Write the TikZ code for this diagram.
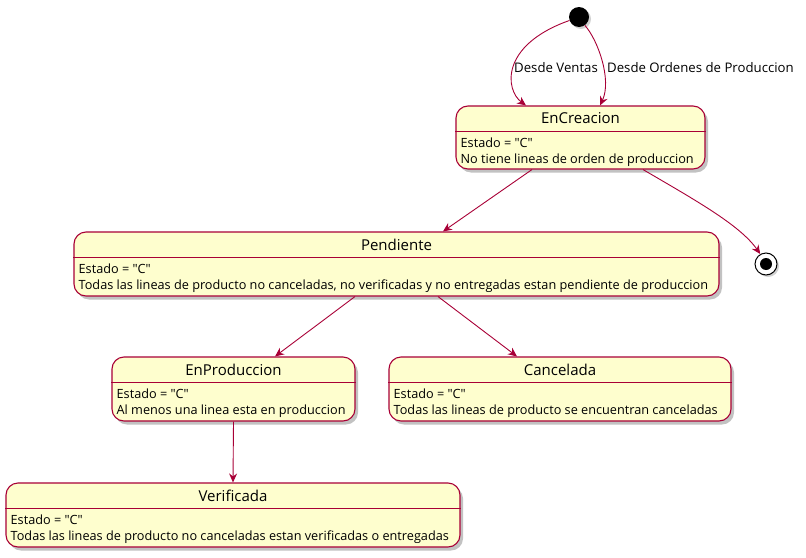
\documentclass[tikz,border=0pt]{standalone}
\usepackage{fontspec}
\setmainfont{Open Sans}[Ligatures=TeXOff]
\usetikzlibrary{arrows.meta,shadows}
\definecolor{umlred}{HTML}{A80036}
\definecolor{umlfill}{HTML}{FEFECE}
\tikzset{
  statebox/.style={draw=umlred, fill=umlfill, line width=1.1pt, rounded corners=12pt, rectangle, inner sep=0pt,
    drop shadow={shadow xshift=3pt, shadow yshift=-3.5pt, opacity=0.4, fill=black!60}},
  sepline/.style={draw=umlred, line width=1.1pt},
  titletext/.style={font=\fontsize{15}{17}\selectfont, inner sep=0pt},
  bodytext/.style={font=\fontsize{12.7}{16}\selectfont, align=left, inner sep=0pt, anchor=north west},
  lbltext/.style={font=\fontsize{13.2}{15}\selectfont, inner sep=0pt, anchor=west},
  trans/.style={draw=umlred, line width=0.9pt, -{Stealth[length=9pt,width=8pt,inset=3pt]}},
}
\begin{document}
\begin{tikzpicture}[x=1pt,y=-1pt]
\useasboundingbox (0,0) rectangle (806,557);
% initial / final
\node[circle, fill=black, minimum size=20pt, inner sep=0pt,
  drop shadow={shadow xshift=2pt, shadow yshift=-2pt, opacity=0.3, fill=black!60}] (init) at (579,17) {};
\node[circle, draw=black, fill=white, line width=1pt, minimum size=22pt, inner sep=0pt,
  drop shadow={shadow xshift=2pt, shadow yshift=-2pt, opacity=0.3, fill=black!60}] (fin) at (766,264) {};
\node[circle, fill=black, minimum size=12pt, inner sep=0pt] (finin) at (fin.center) {};

% states
\node[statebox, minimum width=249pt, minimum height=63pt] (encreacion) at (580.5,137.5) {};
\node[statebox, minimum width=645pt, minimum height=64pt] (pendiente) at (396.5,264) {};
\node[statebox, minimum width=243pt, minimum height=64pt] (enproduccion) at (233.5,389) {};
\node[statebox, minimum width=342pt, minimum height=64pt] (cancelada) at (560,389) {};
\node[statebox, minimum width=454pt, minimum height=64pt] (verificada) at (233,515) {};

\foreach \s in {encreacion,pendiente,enproduccion,cancelada,verificada}{
  \draw[sepline] ([yshift=-26pt]\s.north west) -- ([yshift=-26pt]\s.north east);
}

\node[titletext] (t1) at ([yshift=-13pt]encreacion.north) {EnCreacion};
\node[bodytext] (b1) at ([xshift=5pt,yshift=-32pt]encreacion.north west) {Estado = "C"\\No tiene lineas de orden de produccion};
\node[titletext] (t2) at ([yshift=-13pt]pendiente.north) {Pendiente};
\node[bodytext] (b2) at ([xshift=5pt,yshift=-32pt]pendiente.north west) {Estado = "C"\\Todas las lineas de producto no canceladas, no verificadas y no entregadas estan pendiente de produccion};
\node[titletext] (t3) at ([yshift=-13pt]enproduccion.north) {EnProduccion};
\node[bodytext] (b3) at ([xshift=5pt,yshift=-32pt]enproduccion.north west) {Estado = "C"\\Al menos una linea esta en produccion};
\node[titletext] (t4) at ([yshift=-13pt]cancelada.north) {Cancelada};
\node[bodytext] (b4) at ([xshift=5pt,yshift=-32pt]cancelada.north west) {Estado = "C"\\Todas las lineas de producto se encuentran canceladas};
\node[titletext] (t5) at ([yshift=-13pt]verificada.north) {Verificada};
\node[bodytext] (b5) at ([xshift=5pt,yshift=-32pt]verificada.north west) {Estado = "C"\\Todas las lineas de producto no canceladas estan verificadas o entregadas};

% transitions
\draw[trans] (init.200) .. controls (500,45) and (505,90) .. ([xshift=-54.5pt]encreacion.north);
\draw[trans] (init.305) .. controls (598,40) and (612,80) .. ([xshift=19.5pt]encreacion.north);
\node[lbltext] (l1) at (514,68) {Desde Ventas};
\node[lbltext] (l2) at (607,68) {Desde Ordenes de Produccion};

\draw[trans] ([xshift=-48.5pt]encreacion.south) -- ([xshift=46.5pt]pendiente.north);
\draw[trans] ([xshift=62.5pt]encreacion.south) .. controls (695,200) and (740,225) .. (fin.120);
\draw[trans] ([xshift=-41.5pt]pendiente.south) -- ([xshift=41.5pt]enproduccion.north);
\draw[trans] ([xshift=41.5pt]pendiente.south) -- ([xshift=-43pt]cancelada.north);
\draw[trans] (enproduccion.south) -- (verificada.north);
\end{tikzpicture}
\end{document}
